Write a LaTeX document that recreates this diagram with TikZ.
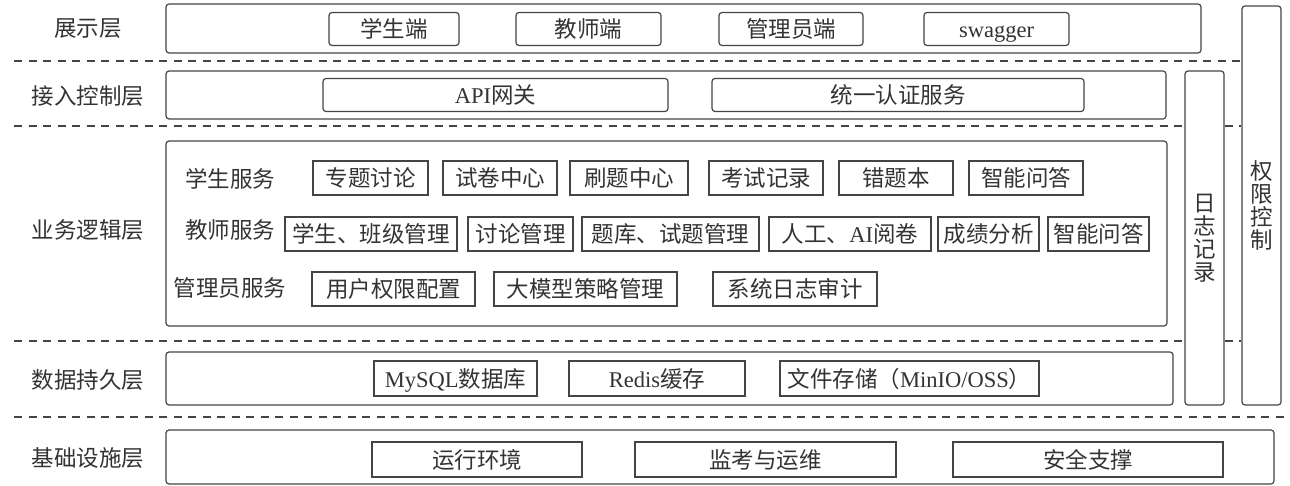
\documentclass[tikz,border=0pt]{standalone}
\usepackage{fontspec}
\setmainfont{Liberation Serif}
\newfontfamily\cjk{Noto Sans CJK SC}
\usetikzlibrary{positioning}
\definecolor{Ink}{HTML}{333333}
\definecolor{Rule}{HTML}{444444}
\tikzset{
  layer/.style={
    rounded corners=3pt, draw=Rule, line width=1.2pt, inner sep=0pt
  },
  portal/.style={
    rounded corners=3pt, draw=Rule, line width=1.2pt,
    minimum height=33pt, inner sep=0pt, text height=19.8pt, text depth=2.7pt
  },
  service/.style={
    draw=Rule, line width=1.2pt, minimum height=34pt, inner sep=0pt,
    text height=19.8pt, text depth=2.7pt
  },
  store/.style={
    draw=Rule, line width=1.2pt, minimum height=35pt, inner sep=0pt,
    text height=19.8pt, text depth=2.7pt
  },
  side/.style={
    rounded corners=3pt, draw=Rule, line width=1.2pt, inner sep=0pt,
    minimum width=39pt, align=center
  },
  tag/.style={inner sep=0pt},
  sep/.style={dash pattern=on 8pt off 6.5pt, line width=1.2pt, draw=Rule}
}

\begin{document}
\begin{tikzpicture}[x=1pt,y=-1pt,font=\cjk\fontsize{22.5}{23}\selectfont,text=Ink]
    \useasboundingbox (0,0) rectangle (1290,486);
    % layer names
    \node[tag] (tShow) at (88,29) {展示层};
    \node[tag] (tGate) at (88,96) {接入控制层};
    \node[tag] (tLogic) at (88,230) {业务逻辑层};
    \node[tag] (tData) at (88,380) {数据持久层};
    \node[tag] (tBase) at (88,458) {基础设施层};
    % layer frames
    \node[layer,minimum width=1035pt,minimum height=49pt] (show) at (683.5,28.5) {};
    \node[layer,minimum width=1000pt,minimum height=48pt] (gate) at (666,95) {};
    \node[layer,minimum width=1001pt,minimum height=185pt] (logic) at (666.5,233.5) {};
    \node[layer,minimum width=1007pt,minimum height=53pt] (data) at (669.5,378.5) {};
    \node[layer,minimum width=1108pt,minimum height=54pt] (base) at (720,457) {};
    \node[side,minimum height=334pt] (logbar) at (1204.5,238) {日\\志\\记\\录};
    \node[side,minimum height=399pt] (authbar) at (1261.5,205.5) {权\\限\\控\\制};
    % separators
    \draw[sep] (14,61) -- (14,61 -| authbar.west);
    \draw[sep] (14,126) -- (14,126 -| logbar.west);
    \draw[sep] (logbar.east |- 0,126) -- (authbar.west |- 0,126);
    \draw[sep] (14,341) -- (14,341 -| logbar.west);
    \draw[sep] (logbar.east |- 0,341) -- (authbar.west |- 0,341);
    \draw[sep] (14,417) -- (1290,417);
    % show layer
    \node[portal,minimum width=130pt] (stuEnd) at (394,29) {学生端};
    \node[portal,minimum width=145pt] (tchEnd) at (588.5,29) {教师端};
    \node[portal,minimum width=144pt] (admEnd) at (791,29) {管理员端};
    \node[portal,minimum width=145pt] (swag) at (996.5,29) {\rmfamily swagger};
    % gate layer
    \node[portal,minimum width=345pt] (apigw) at (495.5,95) {{\rmfamily API}网关};
    \node[portal,minimum width=372pt] (sso) at (898,95) {统一认证服务};
    % logic layer: student
    \node[tag] (tStu) at (230,179) {学生服务};
    \node[service,minimum width=115pt] (topic) at (370.5,178) {专题讨论};
    \node[service,minimum width=114pt] (paper) at (500,178) {试卷中心};
    \node[service,minimum width=118pt] (drill) at (629,178) {刷题中心};
    \node[service,minimum width=114pt] (exams) at (766,178) {考试记录};
    \node[service,minimum width=114pt] (wrong) at (896,178) {错题本};
    \node[service,minimum width=114pt] (qaStu) at (1026,178) {智能问答};
    % logic layer: teacher
    \node[tag] (tTch) at (230,230) {教师服务};
    \node[service,minimum width=172pt] (klass) at (371,234) {学生、班级管理};
    \node[service,minimum width=105pt] (discuss) at (520.5,234) {讨论管理};
    \node[service,minimum width=177pt] (bank) at (670.5,234) {题库、试题管理};
    \node[service,minimum width=162pt] (grade) at (850,234) {人工、{\rmfamily AI}阅卷};
    \node[service,minimum width=101pt] (score) at (988.5,234) {成绩分析};
    \node[service,minimum width=101pt] (qaTch) at (1098.5,234) {智能问答};
    % logic layer: admin
    \node[tag] (tAdm) at (230,288) {管理员服务};
    \node[service,minimum width=163pt] (perm) at (393.5,289) {用户权限配置};
    \node[service,minimum width=183pt] (llm) at (585.5,289) {大模型策略管理};
    \node[service,minimum width=164pt] (audit) at (795,289) {系统日志审计};
    % data layer
    \node[store,minimum width=163pt] (mysql) at (455.5,378.5) {{\rmfamily MySQL}数据库};
    \node[store,minimum width=176pt] (redis) at (657,378.5) {{\rmfamily Redis}缓存};
    \node[store,minimum width=259pt] (files) at (909.5,378.5) {文件存储（{\rmfamily MinIO/OSS}）};
    % base layer
    \node[store,minimum width=210pt] (runtime) at (477,459.5) {运行环境};
    \node[store,minimum width=261pt] (ops) at (765.5,459.5) {监考与运维};
    \node[store,minimum width=270pt] (secure) at (1088,459.5) {安全支撑};
  \end{tikzpicture}
\end{document}
